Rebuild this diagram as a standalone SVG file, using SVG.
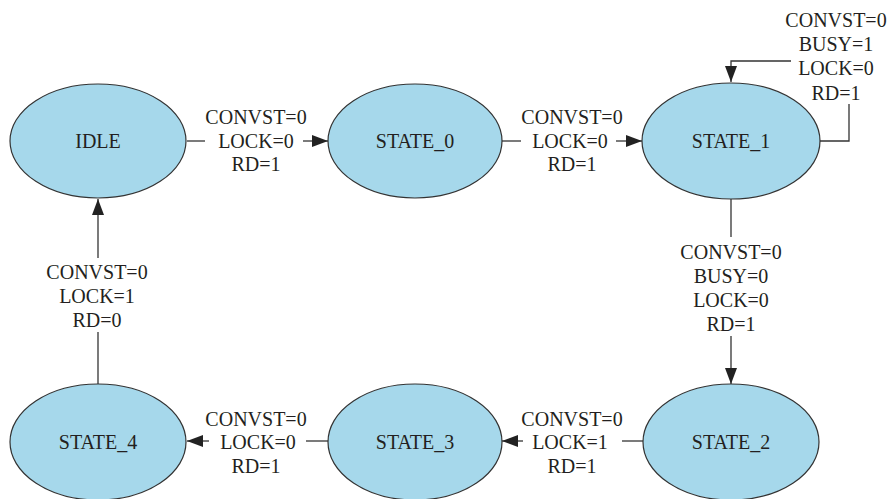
<svg xmlns="http://www.w3.org/2000/svg" width="890" height="499" viewBox="0 0 890 499">
<style>
.node ellipse{fill:#a6d8eb;stroke:#333;stroke-width:1.2}
text{font-family:'Liberation Serif','DejaVu Serif',serif;font-size:20px;fill:#231f20;text-anchor:middle}
.edge{stroke:#333;stroke-width:1.3;fill:none}
</style>
<defs>
<marker id="arr" markerWidth="16" markerHeight="12" refX="16" refY="6" orient="auto" markerUnits="userSpaceOnUse">
<path d="M0,0 L16,6 L0,12 Z" fill="#222"/>
</marker>
</defs>
<rect width="890" height="499" fill="#fff"/>
<g id="connectors">
<path class="edge" d="M187,141 H205"/>
<path class="edge" d="M303,141 H328" marker-end="url(#arr)"/>
<path class="edge" d="M502,141 H521"/>
<path class="edge" d="M616,141 H642" marker-end="url(#arr)"/>
<path class="edge" d="M820,141 H849 V104"/>
<path class="edge" d="M791,61 H731 V82" marker-end="url(#arr)"/>
<path class="edge" d="M731,199 V237"/>
<path class="edge" d="M731,336 V384" marker-end="url(#arr)"/>
<path class="edge" d="M643,441 H622"/>
<path class="edge" d="M523,441 H502" marker-end="url(#arr)"/>
<path class="edge" d="M328,441 H306"/>
<path class="edge" d="M209,441 H187" marker-end="url(#arr)"/>
<path class="edge" d="M98,385 V332"/>
<path class="edge" d="M98,258 V199" marker-end="url(#arr)"/>
<text x="256" y="124">CONVST=0</text>
<text x="256" y="148">LOCK=0</text>
<text x="256" y="171">RD=1</text>
<text x="572" y="124">CONVST=0</text>
<text x="570" y="148">LOCK=0</text>
<text x="572" y="171">RD=1</text>
<text x="836" y="27">CONVST=0</text>
<text x="836" y="51">BUSY=1</text>
<text x="836" y="75">LOCK=0</text>
<text x="836" y="100">RD=1</text>
<text x="731" y="259">CONVST=0</text>
<text x="731" y="283">BUSY=0</text>
<text x="731" y="307">LOCK=0</text>
<text x="731" y="331">RD=1</text>
<text x="572" y="426">CONVST=0</text>
<text x="570" y="449">LOCK=1</text>
<text x="572" y="473">RD=1</text>
<text x="256" y="426">CONVST=0</text>
<text x="258" y="449">LOCK=0</text>
<text x="256" y="473">RD=1</text>
<text x="97" y="279">CONVST=0</text>
<text x="97" y="303">LOCK=1</text>
<text x="97" y="327">RD=0</text>
</g>
<g id="IDLE" class="node"><ellipse cx="98" cy="141" rx="88" ry="57"/><text x="98" y="148">IDLE</text></g>
<g id="STATE_0" class="node"><ellipse cx="415" cy="141" rx="87" ry="57"/><text x="415" y="148">STATE_0</text></g>
<g id="STATE_1" class="node"><ellipse cx="731" cy="141" rx="89" ry="58"/><text x="731" y="148">STATE_1</text></g>
<g id="STATE_2" class="node"><ellipse cx="731" cy="442" rx="88" ry="58"/><text x="731" y="449">STATE_2</text></g>
<g id="STATE_3" class="node"><ellipse cx="415" cy="442" rx="87" ry="58"/><text x="415" y="449">STATE_3</text></g>
<g id="STATE_4" class="node"><ellipse cx="98" cy="442" rx="88" ry="58"/><text x="98" y="449">STATE_4</text></g>
</svg>
